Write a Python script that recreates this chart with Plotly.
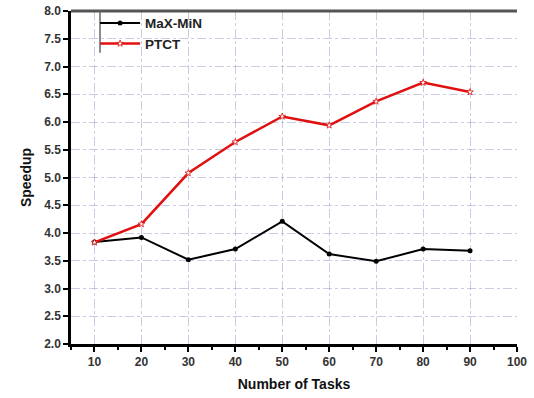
import plotly.graph_objects as go

tasks = [10, 20, 30, 40, 50, 60, 70, 80, 90]
maxmin = [3.84, 3.92, 3.52, 3.71, 4.21, 3.62, 3.49, 3.71, 3.68]
ptct = [3.83, 4.16, 5.08, 5.64, 6.10, 5.94, 6.37, 6.71, 6.54]

x_ticks = [10, 20, 30, 40, 50, 60, 70, 80, 90, 100]
y_ticks = [2.0, 2.5, 3.0, 3.5, 4.0, 4.5, 5.0, 5.5, 6.0, 6.5, 7.0, 7.5, 8.0]

FONT = "Liberation Sans, Arial, sans-serif"

fig = go.Figure()
fig.add_trace(go.Scatter(
    x=tasks, y=maxmin, name="<b>MaX-MiN</b>", mode="lines+markers",
    line=dict(color="black", width=2),
    marker=dict(symbol="circle", size=5, color="black"),
))
fig.add_trace(go.Scatter(
    x=tasks, y=ptct, name="<b>PTCT</b>", mode="lines+markers",
    line=dict(color="#e01010", width=2.5),
    marker=dict(symbol="star", size=5, color="white", line=dict(color="#e01010", width=0.8)),
))

grid_color = "rgba(140,140,200,0.45)"

fig.update_layout(
    width=534, height=398,
    margin=dict(l=71, r=17, t=11, b=54, autoexpand=False),
    paper_bgcolor="white", plot_bgcolor="white",
    font=dict(family=FONT, color="#222"),
    showlegend=True,
    legend=dict(
        x=0.054, y=1.01, xanchor="left", yanchor="top",
        bgcolor="rgba(0,0,0,0)", borderwidth=0,
        font=dict(size=13.5, color="#222"),
        tracegroupgap=0, itemwidth=40,
    ),
    xaxis=dict(
        range=[5, 100], tickvals=x_ticks, ticktext=[f"<b>{v}</b>" for v in x_ticks],
        automargin=False, ticklabeloverflow="allow",
        showline=True, linecolor="black", linewidth=2.5,
        ticks="outside", ticklen=5, tickwidth=2, tickcolor="black",
        minor=dict(dtick=5, ticks="outside", ticklen=3, tickwidth=1.5, tickcolor="black", showgrid=False),
        showgrid=True, gridcolor=grid_color, griddash="dashdot", gridwidth=1,
        zeroline=False,
        tickfont=dict(size=12, color="#333"),
        title=dict(text="<b>Number of Tasks</b>", font=dict(size=14, color="#111"), standoff=12),
    ),
    yaxis=dict(
        range=[2.0, 8.0], tickvals=y_ticks, ticktext=[f"<b>{v:.1f}</b>" for v in y_ticks],
        automargin=False, ticklabeloverflow="allow",
        showline=True, linecolor="black", linewidth=2.5,
        ticks="outside", ticklen=5, tickwidth=2, tickcolor="black",
        showgrid=True, gridcolor=grid_color, griddash="dashdot", gridwidth=1,
        zeroline=False,
        tickfont=dict(size=12, color="#333"),
        title=dict(text="<b>Speedup</b>", font=dict(size=14, color="#111"), standoff=10),
    ),
    shapes=[
        dict(type="line", xref="paper", yref="paper", x0=0, x1=1, y0=1, y1=1,
             line=dict(color="#555", width=3)),
        dict(type="line", xref="paper", yref="paper", x0=0.065, x1=0.065, y0=1, y1=0.875,
             line=dict(color="#666", width=1.5)),
    ],
)

fig.write_html("out.html", config={"displayModeBar": False},
               post_script="document.body.style.margin='0';")
